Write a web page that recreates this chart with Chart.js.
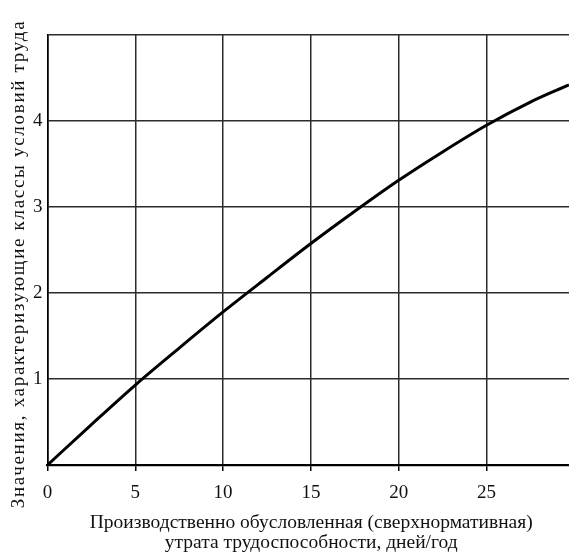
<!DOCTYPE html>
<html lang="ru">
<head>
<meta charset="utf-8">
<title>Значения, характеризующие классы условий труда</title>
<script src="https://cdn.jsdelivr.net/npm/chart.js@4.4.1/dist/chart.umd.min.js"></script>
<style>
  html, body { margin: 0; padding: 0; background: #fff; }
  #wrap { width: 569px; height: 554px; position: relative; }
</style>
</head>
<body>
<div id="wrap"><canvas id="chart" width="569" height="554"></canvas></div>
<script>
// values
const lossDays = [0, 2.5, 5, 7.5, 10, 12.5, 15, 17.5, 20, 22.5, 25, 27.5, 29.7];
const classValues = [0, 0.47, 0.93, 1.36, 1.78, 2.18, 2.575, 2.95, 3.31, 3.64, 3.95, 4.22, 4.42];
const xTicks = [0, 5, 10, 15, 20, 25];
const yTicks = [1, 2, 3, 4];

const xTitle = ['Производственно обусловленная (сверхнормативная)', 'утрата трудоспособности, дней/год'];
const yTitle = 'Значения, характеризующие классы условий труда';

const FONT = '"Liberation Serif", "DejaVu Serif", serif';

// axis titles drawn by hand, the y one needs letter spacing
const axisTitles = {
  id: 'axisTitles',
  afterDraw(chart) {
    const ctx = chart.ctx;
    const area = chart.chartArea;
    ctx.save();
    ctx.fillStyle = '#111';
    ctx.textAlign = 'center';
    ctx.textBaseline = 'middle';
    ctx.font = '19.5px ' + FONT;
    const cx = (area.left + area.right) / 2 + 3;
    ctx.fillText(xTitle[0], cx, 523);
    ctx.fillText(xTitle[1], cx, 543);

    ctx.translate(19, 264);
    ctx.rotate(-Math.PI / 2);
    ctx.font = '19px ' + FONT;
    ctx.letterSpacing = '1.7px';
    ctx.fillText(yTitle, 0, 0);
    ctx.restore();
  }
};

new Chart(document.getElementById('chart'), {
  type: 'line',
  data: {
    datasets: [{
      data: lossDays.map((x, i) => ({ x, y: classValues[i] })),
      borderColor: '#000',
      borderWidth: 3,
      pointRadius: 0,
      cubicInterpolationMode: 'monotone',
      fill: false
    }]
  },
  options: {
    responsive: false,
    animation: false,
    layout: { padding: { top: 35, right: 0, left: 0, bottom: 0 } },
    plugins: {
      legend: { display: false },
      tooltip: { enabled: false }
    },
    scales: {
      x: {
        type: 'linear',
        min: 0,
        max: 29.7,
        afterBuildTicks(scale) {
          scale.ticks = xTicks.map(v => ({ value: v }));
        },
        afterFit(scale) { scale.height = 89; },
        grid: {
          color: '#2b2b2b',
          lineWidth: 1.5,
          drawTicks: true,
          tickLength: 6,
          tickColor: '#000'
        },
        border: { color: '#000', width: 2.2 },
        ticks: {
          color: '#111',
          padding: 11,
          maxRotation: 0,
          font: { family: FONT, size: 19 }
        }
      },
      y: {
        type: 'linear',
        min: 0,
        max: 5,
        afterBuildTicks(scale) {
          scale.ticks = [0, ...yTicks, 5].map(v => ({ value: v }));
        },
        afterFit(scale) { scale.width = 47.5; },
        grid: {
          color: '#2b2b2b',
          lineWidth: 1.5,
          drawTicks: false
        },
        border: { color: '#000', width: 1.6 },
        ticks: {
          color: '#111',
          padding: 5,
          font: { family: FONT, size: 19 },
          callback: v => (yTicks.includes(v) ? String(v) : '')
        }
      }
    }
  },
  plugins: [axisTitles]
});
</script>
</body>
</html>
